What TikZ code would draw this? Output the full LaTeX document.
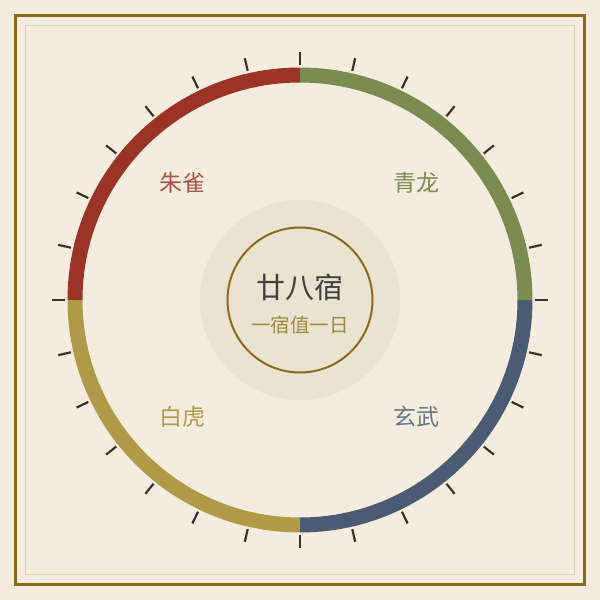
\documentclass[tikz,border=0pt]{standalone}
\usepackage{fontspec}
\setmainfont{Noto Sans CJK SC}
\usepackage{tikz}
\usetikzlibrary{positioning, calc}

\definecolor{paper}{HTML}{F3ECDF}
\definecolor{frame}{HTML}{8B6A1C}
\definecolor{inframe}{HTML}{D9D0B2}
\definecolor{disc}{HTML}{EBE3D2}
\definecolor{zhuque}{HTML}{9B3327}
\definecolor{qinglong}{HTML}{7A8C4F}
\definecolor{xuanwu}{HTML}{4B5B73}
\definecolor{baihu}{HTML}{B09A47}
\definecolor{tick}{HTML}{3A3128}

\tikzset{
  quarter/.style={line width=15pt, line cap=butt},
  beast/.style={font=\fontsize{23}{23}\selectfont}
}

\begin{document}
\begin{tikzpicture}[x=1pt, y=1pt]
\useasboundingbox (-300,-300) rectangle (300,300);
\fill[paper] (-300,-300) rectangle (300,300);

% Frame
\draw[frame, line width=3pt] (-284,-284) rectangle (284,284);
\draw[inframe, line width=1.2pt] (-274.5,-274.5) rectangle (274.5,274.5);

% Four quarters of the ring
\draw[quarter, qinglong] (0,225) arc (90:0:225);
\draw[quarter, xuanwu] (225,0) arc (0:-90:225);
\draw[quarter, baihu] (0,-225) arc (270:180:225);
\draw[quarter, zhuque] (-225,0) arc (180:90:225);

% Ticks
\foreach \i in {0,...,27}
  \draw[tick, line width=2.2pt] (90-\i*360/28:235) -- (90-\i*360/28:248);

% Centre
\fill[disc] (0,0) circle (100);
\draw[frame, line width=2pt] (0,0) circle (72.5);
\node[text=black!75, font=\fontsize{29}{29}\selectfont] (title) at (0,13) {廿八宿};
\node[text=baihu!90!black, font=\fontsize{19.5}{19.5}\selectfont] (sub) at (0,-25) {一宿值一日};

% Labels
\node[beast, text=zhuque!85] (zq) at (-117,117) {朱雀};
\node[beast, text=qinglong] (ql) at (117,117) {青龙};
\node[beast, text=baihu] (bh) at (-117,-117) {白虎};
\node[beast, text=xuanwu!85] (xw) at (117,-117) {玄武};
\end{tikzpicture}
\end{document}
